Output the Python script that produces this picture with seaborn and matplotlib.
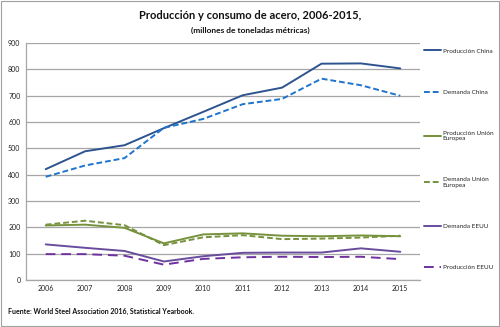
import matplotlib
matplotlib.use("Agg")
import matplotlib.pyplot as plt
import seaborn as sns
import pandas as pd

years = [2006, 2007, 2008, 2009, 2010, 2011, 2012, 2013, 2014, 2015]
prod_china = [421, 489, 512, 577, 639, 702, 731, 822, 823, 804]
dem_china = [392, 435, 463, 578, 612, 668, 688, 765, 740, 700]
prod_ue = [207, 210, 198, 139, 173, 177, 168, 166, 169, 166]
dem_ue = [210, 225, 208, 132, 162, 170, 155, 157, 161, 168]
dem_eeuu = [135, 122, 110, 70, 90, 103, 104, 104, 120, 107]
prod_eeuu = [98, 98, 92, 58, 80, 86, 88, 87, 88, 79]

series = {
    "Producción China": prod_china,
    "Demanda China": dem_china,
    "Producción Unión\nEuropea": prod_ue,
    "Demanda Unión\nEuropea": dem_ue,
    "Demanda EEUU": dem_eeuu,
    "Producción EEUU": prod_eeuu,
}
order = list(series.keys())
rows = []
for name, vals in series.items():
    for y, v in zip(years, vals):
        rows.append({"Año": y, "Valor": v, "Serie": name})
df = pd.DataFrame(rows)

palette = {
    "Producción China": "#2E548F",
    "Demanda China": "#1F74CC",
    "Producción Unión\nEuropea": "#76923C",
    "Demanda Unión\nEuropea": "#76923C",
    "Demanda EEUU": "#6A4C9C",
    "Producción EEUU": "#7030A0",
}
dashes = {
    "Producción China": "",
    "Demanda China": (3, 1.5),
    "Producción Unión\nEuropea": "",
    "Demanda Unión\nEuropea": (3, 1.5),
    "Demanda EEUU": "",
    "Producción EEUU": (5, 3),
}

sns.set_style("white")
plt.rcParams["font.family"] = ["Lato", "DejaVu Sans"]

fig = plt.figure(figsize=(5, 3.27), dpi=100)
ax = fig.add_axes([0.052, 0.144, 0.788, 0.724])

sns.lineplot(data=df, x="Año", y="Valor", hue="Serie", style="Serie",
             hue_order=order, style_order=order, palette=palette,
             dashes=dashes, linewidth=1.4, ax=ax, legend=True)

ax.set_xlim(2005.5, 2015.5)
ax.set_ylim(0, 900)
ax.set_xticks(years)
ax.set_xticklabels([str(y) for y in years])
ax.set_yticks(range(0, 901, 100))
ax.tick_params(axis="both", labelsize=5, length=0, pad=4, colors="#222222")
ax.grid(axis="y", color="#A6A6A6", linewidth=0.9)
ax.set_axisbelow(True)
for s in ["top", "right"]:
    ax.spines[s].set_visible(False)
for s in ["left", "bottom"]:
    ax.spines[s].set_color("#A6A6A6")
    ax.spines[s].set_linewidth(0.9)
ax.set_xlabel("")
ax.set_ylabel("")

handles, labels = ax.get_legend_handles_labels()
ax.get_legend().remove()
leg = fig.legend(handles, labels, loc="upper left", bbox_to_anchor=(0.848, 0.853),
                 frameon=False, fontsize=4.6, labelspacing=5.6, handlelength=2.7,
                 handletextpad=0.25, borderaxespad=0, borderpad=0)

fig.text(0.5, 0.952, "Producción y consumo de acero, 2006-2015,", ha="center",
         va="center", fontsize=8, fontweight="bold", color="#111111")
fig.text(0.5, 0.908, "(millones de toneladas métricas)", ha="center",
         va="center", fontsize=6, fontweight="bold", color="#111111")
fig.text(0.016, 0.048, "Fuente: World Steel Association 2016, Statistical Yearbook.",
         ha="left", va="center", fontsize=5, fontweight="bold", color="#111111")

border = plt.Rectangle((0.002, 0.003), 0.996, 0.994, transform=fig.transFigure,
                       fill=False, edgecolor="#A0A0A0", linewidth=0.8)
fig.patches.append(border)

fig.savefig("out.png", dpi=100)
